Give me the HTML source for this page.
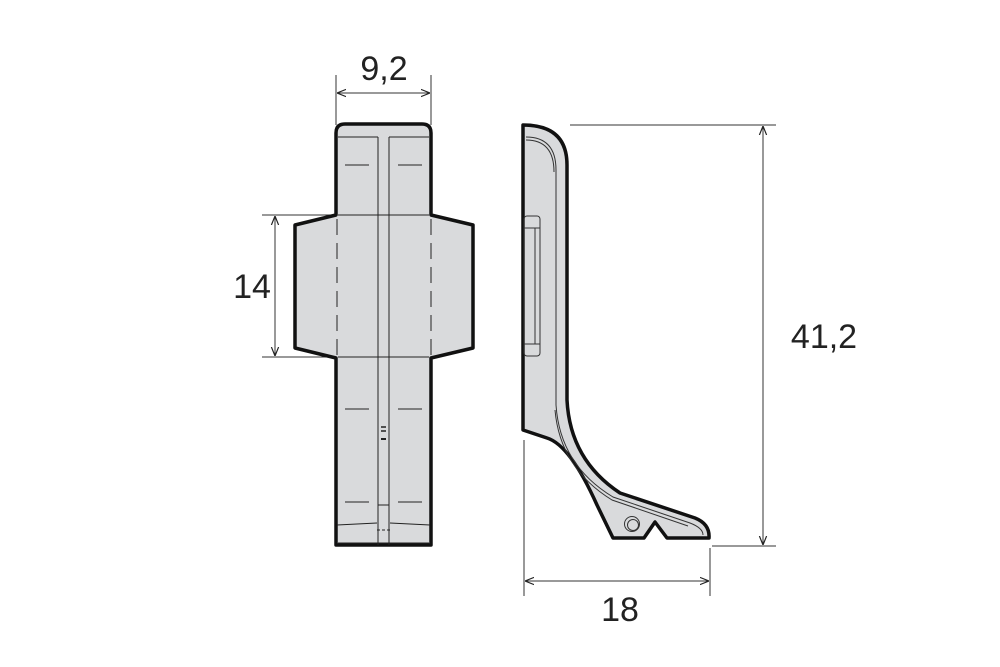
<!DOCTYPE html>
<html><head><style>html,body{margin:0;padding:0;background:#fff;}svg{display:block}</style></head>
<body>
<svg width="1000" height="667" viewBox="0 0 1000 667" xmlns="http://www.w3.org/2000/svg">
<defs>
<marker id="a" viewBox="0 0 10 10" refX="10" refY="5" markerWidth="9" markerHeight="9" orient="auto-start-reverse" markerUnits="userSpaceOnUse"><path d="M0,1 L10,5 L0,9" fill="none" stroke="#222" stroke-width="1.3"/></marker>
</defs>
<g stroke="#333" stroke-width="1" fill="none">
<!-- 9,2 -->
<line x1="336" y1="75" x2="336" y2="125"/><line x1="431" y1="75" x2="431" y2="125"/>
<line x1="337" y1="93" x2="430" y2="93" marker-start="url(#a)" marker-end="url(#a)"/>
<!-- 14 -->
<line x1="262" y1="215" x2="336" y2="215"/><line x1="262" y1="357" x2="336" y2="357"/>
<line x1="275" y1="216" x2="275" y2="356" marker-start="url(#a)" marker-end="url(#a)"/>
<!-- 41,2 -->
<line x1="570" y1="125" x2="776" y2="125"/><line x1="712" y1="546" x2="776" y2="546"/>
<line x1="763" y1="126" x2="763" y2="545" marker-start="url(#a)" marker-end="url(#a)"/>
<!-- 18 -->
<line x1="524" y1="440" x2="524" y2="596"/><line x1="710" y1="548" x2="710" y2="596"/>
<line x1="525" y1="581" x2="709" y2="581" marker-start="url(#a)" marker-end="url(#a)"/>
</g>
<g font-family="Liberation Sans, sans-serif" font-size="34" fill="#222">
<text x="384" y="80" text-anchor="middle">9,2</text>
<text x="252" y="298" text-anchor="middle">14</text>
<text x="824" y="348" text-anchor="middle">41,2</text>
<text x="620" y="621" text-anchor="middle">18</text>
</g>
<!-- front view -->
<path d="M336,545 L336,358 L295,348 L295,225 L336,215 L336,133 Q336,124 345,124 L422,124 Q431,124 431,133 L431,215 L473,225 L473,348 L431,358 L431,545 Z" fill="#d9dadc" stroke="#111" stroke-width="3.5" stroke-linejoin="round"/>
<g stroke="#222" stroke-width="1" fill="none">
<line x1="378" y1="137" x2="378" y2="545"/><line x1="389" y1="137" x2="389" y2="545"/>
<line x1="338" y1="137" x2="378" y2="137"/><line x1="389" y1="137" x2="429" y2="137"/>
<line x1="338" y1="215" x2="429" y2="215"/><line x1="338" y1="357" x2="429" y2="357"/>
<line x1="337" y1="219" x2="337" y2="356" stroke-dasharray="16,8"/>
<line x1="431" y1="219" x2="431" y2="356" stroke-dasharray="16,8"/>
<line x1="345" y1="165" x2="369" y2="165"/><line x1="398" y1="165" x2="422" y2="165"/>
<line x1="345" y1="409" x2="369" y2="409"/><line x1="398" y1="409" x2="422" y2="409"/>
<line x1="345" y1="502" x2="369" y2="502"/><line x1="398" y1="502" x2="422" y2="502"/>
<line x1="378" y1="505" x2="389" y2="505"/>
<line x1="337" y1="525" x2="377" y2="523"/><line x1="390" y1="523" x2="430" y2="525"/>
<line x1="377" y1="530" x2="390" y2="530" stroke-dasharray="3,2"/>
<line x1="338" y1="543" x2="429" y2="543"/>
<line x1="381" y1="427" x2="386" y2="427" stroke-width="1.5"/><line x1="381" y1="431" x2="386" y2="431" stroke-width="1.5"/><line x1="381" y1="439" x2="386" y2="439" stroke-width="2"/>
</g>
<!-- side view -->
<path d="M523,125 Q567,125 567,165 L567,400 Q570,460 620,493 L695,518 Q710,524 709,538 L667,538 L655,522 L644,538 L613,538 L597,505 Q570,445 547,438 L523,430 Z" fill="#d9dadc" stroke="#111" stroke-width="3.5" stroke-linejoin="round"/>
<g stroke="#333" stroke-width="1" fill="none">
<path d="M526,137 Q556,137 556,170 L556,405 Q560,465 613,497 L690,523 Q703,528 703,535"/>
<path d="M526,140 Q554,140 554,172"/>
<path d="M555,410 Q560,468 612,500 L688,526"/>
<rect x="524" y="216" width="16" height="140" rx="3"/>
<line x1="524" y1="228" x2="540" y2="228"/><line x1="524" y1="344" x2="540" y2="344"/>
<line x1="535" y1="228" x2="535" y2="344"/>
<circle cx="632" cy="524" r="7.5"/><circle cx="633" cy="525" r="5.5"/>
</g>
</svg>
</body></html>
